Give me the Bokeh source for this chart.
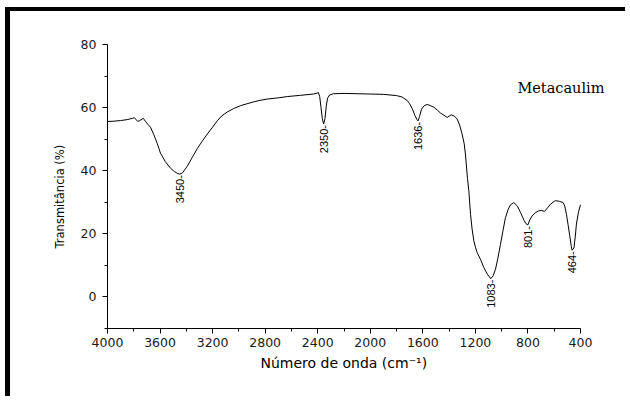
from bokeh.plotting import figure
from bokeh.models import Range1d, FixedTicker, Label, ColumnDataSource, Title
from bokeh.embed import file_html
from bokeh.resources import INLINE
from bokeh.core.properties import value

# ---- data ----
wavenumber = [4000, 3950, 3900, 3850, 3810, 3795, 3770, 3755, 3728, 3710, 3693, 3673,
              3648, 3622, 3597, 3560, 3521, 3490, 3470, 3450, 3430, 3393, 3355, 3317,
              3280, 3241, 3200, 3165, 3130, 3089, 3040, 2988, 2940, 2889, 2840, 2785,
              2700, 2632, 2530, 2432, 2404, 2395, 2385, 2375, 2365, 2355, 2345, 2335,
              2325, 2310, 2280, 2200, 2100, 2000, 1900, 1800, 1760, 1720, 1700, 1680,
              1660, 1645, 1636, 1625, 1610, 1590, 1567, 1540, 1516, 1490, 1466, 1440,
              1415, 1400, 1384, 1360, 1339, 1320, 1301, 1285, 1276, 1260, 1250, 1237,
              1225, 1212, 1200, 1187, 1160, 1136, 1110, 1083, 1065, 1047, 1030, 1009,
              990, 971, 950, 933, 908, 880, 857, 830, 815, 801, 785, 768, 740, 718,
              695, 674, 650, 628, 600, 590, 560, 532, 520, 507, 495, 482, 470, 464,
              450, 440, 431, 415, 400]
transmittance = [55.6, 55.7, 55.9, 56.2, 56.6, 56.8, 55.6, 55.9, 56.6, 55.6, 54.7, 53.8,
                 51.5, 48.7, 45.6, 42.9, 40.8, 39.7, 39.2, 38.9, 39.3, 41.4, 44.2, 47.0,
                 49.3, 51.6, 53.8, 55.8, 57.4, 58.6, 59.7, 60.6, 61.2, 61.8, 62.3, 62.7,
                 63.1, 63.5, 63.9, 64.3, 64.6, 64.8, 63.5, 60.0, 56.5, 54.8, 56.5, 60.5,
                 63.0, 64.0, 64.4, 64.5, 64.4, 64.3, 64.2, 63.8, 63.4, 62.3, 61.2, 59.6,
                 57.5, 56.2, 55.8, 57.2, 59.5, 60.6, 61.0, 60.6, 60.1, 59.2, 58.3, 57.6,
                 56.9, 57.3, 57.7, 57.3, 56.4, 54.5, 51.6, 48.5, 45.3, 37.5, 33.7, 26.2,
                 21.5, 17.8, 15.8, 14.1, 11.8, 9.3, 7.3, 5.8, 6.7, 8.8, 12.0, 16.7,
                 21.0, 25.2, 27.8, 29.2, 29.9, 28.8, 26.8, 24.3, 23.2, 22.8, 24.5, 25.7,
                 26.8, 27.3, 27.4, 27.1, 28.3, 29.4, 30.3, 30.5, 30.3, 29.9, 28.8, 26.2,
                 23.0, 19.4, 16.0, 14.8, 15.5, 19.0, 23.1, 27.0, 29.2]

peak_wn = [3450, 2350, 1636, 1083, 801, 464]
peak_t = [38.9, 54.8, 55.8, 5.8, 22.8, 14.8]
peak_text = ["3450-", "2350-", "1636-", "1083-", "801-", "464-"]

x_major = [4000, 3600, 3200, 2800, 2400, 2000, 1600, 1200, 800, 400]
x_minor = [3800, 3400, 3000, 2600, 2200, 1800, 1400, 1000, 600]
y_major = [0, 20, 40, 60, 80]
y_minor = [-10, 10, 30, 50, 70]

sample_name = "Metacaulim"
x_title = "Número de onda (cm⁻¹)"
y_title = "Transmitância (%)"

# the frame runs a little past 400 cm-1 so the sample name is not clipped;
# the x axis itself is bounded to 4000-400
p = figure(width=620, height=389, output_backend="svg", toolbar_location=None,
           x_range=Range1d(4000, 171.7), y_range=Range1d(-10, 80),
           min_border_left=97, min_border_right=20, min_border_top=33, min_border_bottom=72)
p.styles = {"border-left": "5px solid black", "border-top": "4px solid black",
            "margin-left": "5px", "margin-top": "7px"}
p.outline_line_color = None
p.background_fill_color = "white"
p.border_fill_color = "white"
p.xgrid.visible = False
p.ygrid.visible = False

spectrum = p.line(wavenumber, transmittance, line_color="black", line_width=1.0)

src = ColumnDataSource(dict(x=peak_wn, y=peak_t, t=peak_text))
p.text(x="x", y="y", text="t", source=src, angle=90, angle_units="deg",
       text_align="right", text_baseline="middle", y_offset=1,
       text_font=value("Liberation Sans"), text_font_size="11px", text_color="black")

p.add_layout(Label(x=880, y=66.3, text=sample_name,
                   text_font="DejaVu Serif", text_font_size="14.5px",
                   text_baseline="middle", text_align="left", text_color="black"))

for ax, maj, mnr in ((p.xaxis[0], x_major, x_minor), (p.yaxis[0], y_major, y_minor)):
    ax.ticker = FixedTicker(ticks=maj, minor_ticks=mnr)
    ax.major_label_text_font = "DejaVu Sans"
    ax.major_label_text_font_size = "12.5px"
    ax.major_label_text_color = "#1a1a1a"
    ax.axis_line_color = "black"
    ax.axis_line_width = 1
    ax.major_tick_line_color = "black"
    ax.minor_tick_line_color = "black"
    ax.major_tick_in = 0
    ax.major_tick_out = 5
    ax.minor_tick_in = 0
    ax.minor_tick_out = 3

p.xaxis.bounds = (4000, 400)
p.xaxis.major_label_standoff = 4
p.yaxis.major_label_standoff = 6

# axis titles as side titles so they can be centred on the bounded axis
p.add_layout(Title(text=x_title, align="left", offset=260 - 107, standoff=7,
                   text_font="DejaVu Sans", text_font_size="14px",
                   text_font_style="normal", text_color="black"), "below")
p.add_layout(Title(text=y_title, align="left", offset=80, standoff=22,
                   text_font="DejaVu Sans", text_font_size="11.5px",
                   text_font_style="normal", text_color="black"), "left")

open("out.html", "w").write(file_html(p, INLINE))
